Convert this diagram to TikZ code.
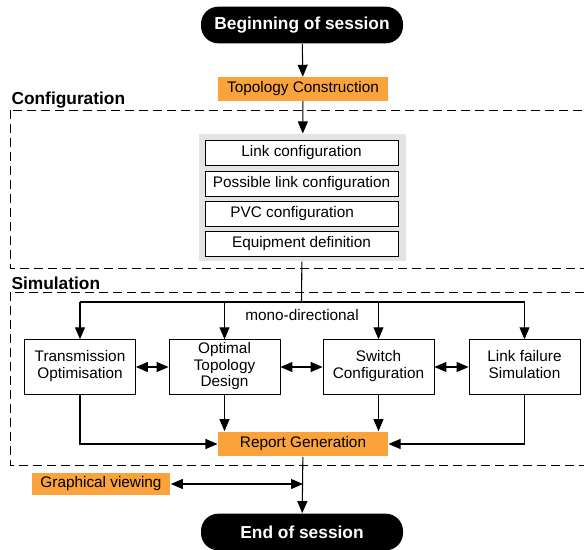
\documentclass[tikz,border=0pt]{standalone}
\usepackage{fontspec}
\setmainfont{Liberation Sans}
\usetikzlibrary{arrows.meta,positioning}
\definecolor{boxorange}{RGB}{249,163,58}
\definecolor{panelgray}{RGB}{228,228,228}
\begin{document}
\begin{tikzpicture}[x=0.75pt,y=-0.75pt,>={Triangle[length=9pt,width=7.5pt]},
  font=\fontsize{11.5}{12.5}\selectfont,line width=0.8pt,
  pill/.style={fill=black,text=white,rounded corners=13pt,minimum width=151.5pt,
    minimum height=27.5pt,font=\fontsize{13}{15}\selectfont\bfseries},
  orangebox/.style={fill=boxorange,inner sep=0pt,minimum height=17.5pt},
  confbox/.style={draw,fill=white,line width=0.6pt,minimum width=144.75pt,minimum height=18.75pt,inner sep=0pt},
  simbox/.style={draw,line width=0.6pt,minimum width=83.25pt,minimum height=41pt,align=center,inner sep=0pt},
  section/.style={font=\fontsize{13}{15}\selectfont\bfseries,anchor=west,inner sep=0pt},
  zone/.style={line width=0.6pt,dash pattern=on 6.5pt off 4pt}]
\useasboundingbox (0,0) rectangle (584,549);
\clip (0,0) rectangle (584,549);
% dashed zones
\draw[zone] (10,110) rectangle (600,268);
\draw[zone] (10,292) rectangle (600,465);
\node[section] at (11,100) {Configuration};
\node[section] at (11,283) {Simulation};
% top part
\node[pill] (begin) at (302,25) {Beginning of session};
\node[orangebox,minimum width=127pt] (topo) at (303,89) {Topology Construction};
\node[fill=panelgray,minimum width=155.25pt,minimum height=95.25pt] (panel) at (302.5,197.5) {};
\node[confbox] (linkconf) at (301.5,153) {Link configuration};
\node[confbox] (possconf) at (301.5,183.5) {Possible link configuration};
\node[confbox] (pvcconf) at (301.5,213.5) {\hspace*{-14pt}PVC configuration};
\node[confbox] (equip) at (301.5,243.5) {Equipment definition};
\draw[->] (begin) -- (topo);
\draw[->] (topo) -- (panel);
% simulation part
\node[simbox] (trans) at (80,367) {Transmission\\Optimisation\strut};
\node[simbox] (optimal) at (224.5,367) {Optimal\\Topology\\Design\strut};
\node[simbox] (switch) at (378.5,367) {Switch\\Configuration\strut};
\node[simbox] (failure) at (524.5,367) {Link failure\\Simulation\strut};
\coordinate (split) at (301.5,302);
\draw (panel) -- (split);
\draw (trans.north |- split) -- (failure.north |- split);
\node[anchor=north] (mono) at (302,304) {mono-directional};
\foreach \n in {trans,optimal,switch,failure}
  \draw[->] (\n.north |- split) -- (\n);
\draw[<->] (trans) -- (optimal);
\draw[<->] (optimal) -- (switch);
\draw[<->] (switch) -- (failure);
\node[orangebox,minimum width=127.5pt,minimum height=18.5pt] (report) at (303,444) {Report Generation};
\draw[->] (trans) |- (report);
\draw[->] (failure) |- (report);
\draw[->] (optimal) -- (optimal |- report.north);
\draw[->] (switch) -- (switch |- report.north);
% bottom part
\node[pill] (end) at (302,532) {End of session};
\node[orangebox,minimum width=104pt,minimum height=16pt] (view) at (101,484) {Graphical viewing};
\draw[->] (report) -- (end);
\coordinate (viewjoin) at (report.south |- view);
\draw[<->] (view) -- (viewjoin);
\end{tikzpicture}
\end{document}
